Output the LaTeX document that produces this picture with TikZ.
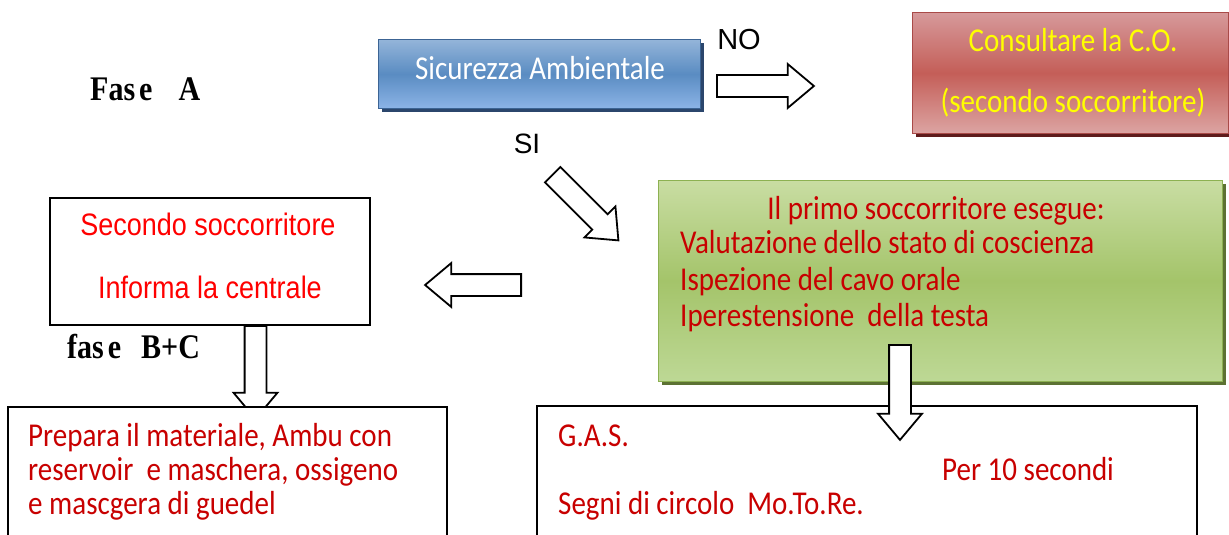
\documentclass[tikz,border=0pt]{standalone}
\usepackage{fontspec}
\usepackage{graphicx}
\setmainfont{Carlito}
\newfontfamily\arialf{Liberation Sans}
\newfontfamily\timesf{Liberation Serif}
\usetikzlibrary{shapes.arrows,shadows}
\definecolor{blueTop}{HTML}{93B4D9}
\definecolor{blueMid}{HTML}{5A8CC2}
\definecolor{blueBot}{HTML}{8BB3E6}
\definecolor{blueEdge}{HTML}{3C6494}
\definecolor{blueShadow}{HTML}{2B466C}
\definecolor{redTop}{HTML}{D6999A}
\definecolor{redMid}{HTML}{C45E58}
\definecolor{redBot}{HTML}{DCA4A2}
\definecolor{redEdge}{HTML}{A94A48}
\definecolor{redShadow}{HTML}{5E1C1C}
\definecolor{greenTop}{HTML}{C9DDA3}
\definecolor{greenMid}{HTML}{A4C46A}
\definecolor{greenBot}{HTML}{BDD895}
\definecolor{greenEdge}{HTML}{8DB152}
\definecolor{greenShadow}{HTML}{5C7233}
\definecolor{darkred}{HTML}{C80000}
\definecolor{yel}{HTML}{FFFF00}
\newcommand{\tall}[1]{\scalebox{1}[1.15]{#1}}
\tikzset{
  txt/.style={inner sep=0pt, font=\fontsize{29}{35}\selectfont},
  atxt/.style={inner sep=0pt, font=\arialf\fontsize{27}{32}\selectfont},
  btxt/.style={inner sep=0pt, font=\timesf\bfseries\fontsize{30}{34}\selectfont, anchor=base west},
  plainbox/.style={draw=black, line width=2.2pt, fill=white, inner sep=0pt},
  glossbox/.style={draw=#1Edge, line width=1pt, inner sep=0pt,
    top color=#1Top, bottom color=#1Bot, middle color=#1Mid,
    general shadow={fill=#1Shadow, shadow xshift=3.5pt, shadow yshift=-3.5pt}},
  blockarrow/.style={single arrow, draw=black, fill=white, line width=1.8pt,
    inner sep=0pt, inner ysep=10pt, single arrow head extend=11pt,
    single arrow tip angle=80, minimum height=#1, anchor=tail},
}
\begin{document}
\begin{tikzpicture}[x=1pt,y=-1pt]
\useasboundingbox (0,0) rectangle (1229,535);

% ---- top row ----
\node[glossbox=blue, minimum width=322pt, minimum height=68pt] (safety) at (539,74) {};
\node[txt, text=white, anchor=base] (safetyT) at (540,80) {\tall{Sicurezza Ambientale}};

\node[glossbox=red, minimum width=316pt, minimum height=120pt] (co) at (1070,73) {};
\node[txt, text=yel, anchor=base] (coT1) at (1073,52) {\tall{Consultare la C.O.}};
\node[txt, text=yel, anchor=base] (coT2) at (1073,112) {\tall{(secondo soccorritore)}};

\node[btxt] (faseA) at (90,100) {\tall{Fas\hspace{4pt}e\hspace{26pt}A}};

\node[inner sep=0pt, font=\arialf\fontsize{29}{34}\selectfont, anchor=base] (no) at (739,49) {NO};
\node[inner sep=0pt, font=\arialf\fontsize{28}{34}\selectfont, anchor=base] (si) at (527,153) {SI};

\node[blockarrow=97pt] (arrNo) at (716,86) {};
\node[blockarrow=93pt, rotate=-45] (arrSi) at (552,174) {};

% ---- green box ----
\node[glossbox=green, minimum width=564pt, minimum height=201pt] (first) at (940,280.5) {};
\node[txt, text=darkred, anchor=base] (firstT0) at (936,219) {\tall{Il primo soccorritore esegue:}};
\node[txt, text=darkred, anchor=base west] (firstT1) at (680,253) {\tall{Valutazione dello stato di coscienza}};
\node[txt, text=darkred, anchor=base west] (firstT2) at (680,290) {\tall{Ispezione del cavo orale}};
\node[txt, text=darkred, anchor=base west] (firstT3) at (680,326) {\tall{Iperestensione\ \ della testa}};

% ---- left box ----
\node[plainbox, minimum width=320pt, minimum height=127pt] (second) at (210,261.5) {};
\node[atxt, text=red, anchor=base] (secondT1) at (208,235) {\tall{Secondo soccorritore}};
\node[atxt, text=red, anchor=base] (secondT2) at (210,298) {\tall{Informa la centrale}};
\node[blockarrow=96pt, rotate=180] (arrLeft) at (522,285) {};

\node[btxt] (faseBC) at (67,358) {\tall{fas\hspace{4pt}e\hspace{20pt}B+C}};

% ---- bottom left ----
\node[blockarrow=93pt, rotate=-90] (arrDownL) at (255.5,325) {};
\node[plainbox, minimum width=439pt, minimum height=150pt] (prep) at (227.5,482) {};
\node[txt, text=darkred, anchor=base west] (prepT1) at (28,446) {\tall{Prepara il materiale, Ambu con}};
\node[txt, text=darkred, anchor=base west] (prepT2) at (28,480) {\tall{reservoir\ \ e maschera, ossigeno}};
\node[txt, text=darkred, anchor=base west] (prepT3) at (28,514) {\tall{e mascgera di guedel}};

% ---- bottom right ----
\node[plainbox, minimum width=660pt, minimum height=150pt] (gas) at (867,481) {};
\node[txt, text=darkred, anchor=base west] (gasT1) at (558,446) {\tall{G.A.S.}};
\node[txt, text=darkred, anchor=base west] (gasT2) at (942,480) {\tall{Per 10 secondi}};
\node[txt, text=darkred, anchor=base west] (gasT3) at (558,514) {\tall{Segni di circolo\ \ Mo.To.Re.}};
\node[blockarrow=95pt, rotate=-90] (arrDownR) at (900,344) {};
\end{tikzpicture}
\end{document}
